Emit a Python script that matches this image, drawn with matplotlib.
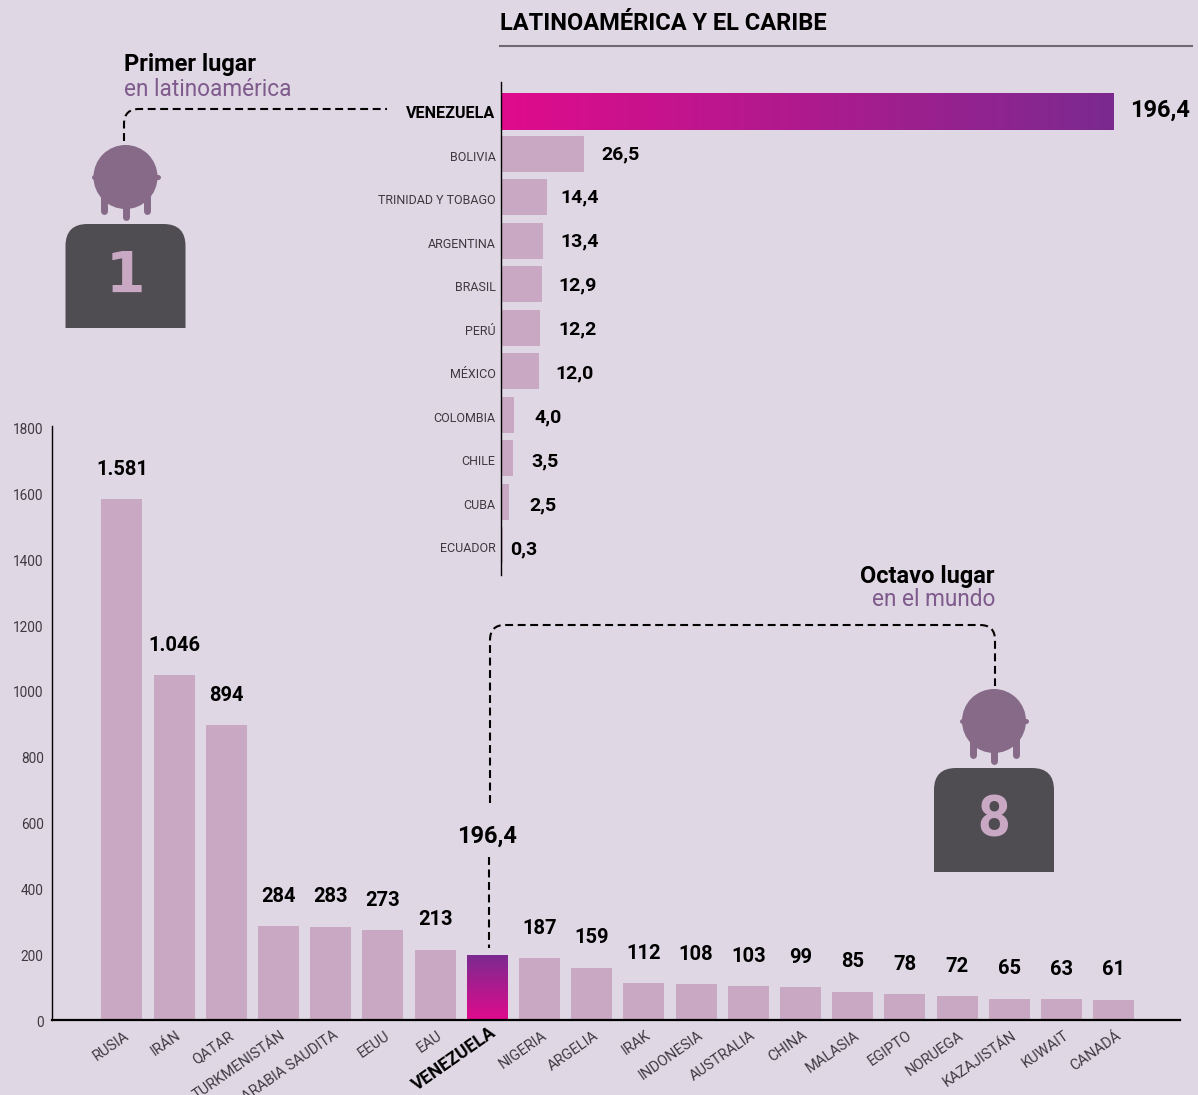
import numpy as np
import matplotlib
matplotlib.use("Agg")
import matplotlib.pyplot as plt
from matplotlib.colors import LinearSegmentedColormap
from matplotlib.patches import Circle, PathPatch
from matplotlib.path import Path
from matplotlib.transforms import ScaledTranslation

# Data
latam_names = ["VENEZUELA", "BOLIVIA", "TRINIDAD Y TOBAGO", "ARGENTINA", "BRASIL", "PERÚ",
               "MÉXICO", "COLOMBIA", "CHILE", "CUBA", "ECUADOR"]
latam_values = [196.4, 26.5, 14.4, 13.4, 12.9, 12.2, 12.0, 4.0, 3.5, 2.5, 0.3]
latam_labels = ["196,4", "26,5", "14,4", "13,4", "12,9", "12,2", "12,0", "4,0", "3,5", "2,5", "0,3"]

world_names = ["RUSIA", "IRÁN", "QATAR", "TURKMENISTÁN", "ARABIA SAUDITA", "EEUU", "EAU", "VENEZUELA",
               "NIGERIA", "ARGELIA", "IRAK", "INDONESIA", "AUSTRALIA", "CHINA", "MALASIA", "EGIPTO",
               "NORUEGA", "KAZAJISTÁN", "KUWAIT", "CANADÁ"]
world_values = [1581, 1046, 894, 284, 283, 273, 213, 196.4, 187, 159, 112, 108, 103, 99, 85, 78, 72, 65, 63, 61]
world_labels = ["1.581", "1.046", "894", "284", "283", "273", "213", "196,4", "187", "159", "112", "108",
                "103", "99", "85", "78", "72", "65", "63", "61"]
world_ticks = [0, 200, 400, 600, 800, 1000, 1200, 1400, 1600, 1800]

# Colours and fonts
BG = "#dfd7e4"
BAR = "#c9a8c3"
HEAD = "#866a88"
BODY = "#4f4c52"
PURPLE = "#7f5a8c"
TICK = "#3d3a40"
HEAVY = ["Roboto", "DejaVu Sans"]
gradient = LinearSegmentedColormap.from_list("vz", ["#e00b8c", "#7b2a90"])

W, H = 1198, 1095
PX = 0.72  # points per pixel at dpi 100

fig = plt.figure(figsize=(W / 100, H / 100), dpi=100, facecolor=BG)


def px_axes(left, top, right, bottom):
    return fig.add_axes([left / W, 1 - bottom / H, (right - left) / W, (bottom - top) / H], facecolor="none")


def shift(dx_px, dy_px):
    return ScaledTranslation(dx_px / 100, dy_px / 100, fig.dpi_scale_trans)


# Latin America chart
ax_top = px_axes(501, 82, 1190, 575)
top_xlim = (0, 689 / 3.12)
top_ylim = (10.68, -0.655)
ypos = np.arange(len(latam_values))
label_pads = [16, 18, 14, 18, 17, 19, 17, 21, 19, 21, 8]
ax_top.barh(ypos[1:], latam_values[1:], height=0.828, color=BAR, left=0.2)
ax_top.imshow(np.linspace(0, 1, 256).reshape(1, -1), cmap=gradient, aspect="auto",
              extent=(0, latam_values[0], 0.44, -0.39), zorder=2)
ax_top.set_xlim(*top_xlim)
ax_top.set_ylim(*top_ylim)
for s in ["top", "right", "bottom"]:
    ax_top.spines[s].set_visible(False)
ax_top.spines["left"].set_linewidth(1.0)
ax_top.set_xticks([])
ax_top.set_yticks(ypos, latam_names)
ax_top.tick_params(axis="y", length=0, pad=4)
for i, t in enumerate(ax_top.get_yticklabels()):
    if i == 0:
        t.set(family=HEAVY, fontweight="bold", fontsize=11.6, color="black")
        t.set_transform(t.get_transform() + shift(0, -1.5))
    else:
        t.set(family=HEAVY, fontsize=9, color=TICK)
        t.set_transform(t.get_transform() + shift(0, -2))
for i, (v, lab) in enumerate(zip(latam_values, latam_labels)):
    size = 17 if i == 0 else 14
    # the printed labels drift slightly from the bar rows
    drift = 0 if i == 0 else -(i - 1) * 0.42
    ax_top.annotate(lab, (v, i), xytext=(label_pads[i] * PX, drift * PX), textcoords="offset points",
                    va="center", ha="left", family=HEAVY, fontweight="bold", fontsize=size, color="black")

# World chart
ax_low = px_axes(52, 426, 1180, 1020)
low_x = np.arange(len(world_values))
low_xlim = (-1.34, 20.27)
low_ylim = (0, 594 / 0.3295)
bars = ax_low.bar(low_x, world_values, width=0.785, color=BAR)
vz = world_names.index("VENEZUELA")
bars[vz].set_visible(False)
ax_low.imshow(np.linspace(1, 0, 256).reshape(-1, 1), cmap=gradient, aspect="auto",
              extent=(vz - 0.3925, vz + 0.3925, 0, world_values[vz]), zorder=2)
ax_low.set_xlim(*low_xlim)
ax_low.set_ylim(*low_ylim)
for s in ["top", "right"]:
    ax_low.spines[s].set_visible(False)
ax_low.spines["left"].set_linewidth(1.0)
ax_low.spines["bottom"].set_linewidth(1.6)
ax_low.set_yticks(world_ticks)
ax_low.tick_params(axis="y", length=0, pad=6, labelsize=9.8, labelcolor=TICK)
for t in ax_low.get_yticklabels():
    t.set_family(HEAVY)
    t.set_transform(t.get_transform() + shift(0, -1.5))
ax_low.set_xticks(low_x, world_names)
ax_low.tick_params(axis="x", length=0, pad=6)
for i, t in enumerate(ax_low.get_xticklabels()):
    t.set(rotation=35, ha="right", va="top", rotation_mode="anchor")
    if i == vz:
        t.set(family=HEAVY, fontweight="bold", fontsize=12.8, color="black")
        t.set_transform(t.get_transform() + shift(2, 5))
    else:
        t.set(family=HEAVY, fontsize=10.5, color=TICK)
        t.set_transform(t.get_transform() + shift(1.5, 0))
for i, (v, lab) in enumerate(zip(world_values, world_labels)):
    dy = 119 if i == vz else 30
    size = 17 if i == vz else 14.5
    ax_low.annotate(lab, (i, v), xytext=(0, dy * PX), textcoords="offset points", ha="center", va="center",
                    family=HEAVY, fontweight="bold", fontsize=size, color="black", zorder=5)

# Overlay in pixel coordinates for titles, connectors and icons
ov = fig.add_axes([0, 0, 1, 1], facecolor="none")
ov.set_xlim(0, W)
ov.set_ylim(H, 0)
ov.axis("off")


def connector(verts, codes):
    ov.add_patch(PathPatch(Path(verts, codes), fill=False, edgecolor="black", lw=1.5, linestyle=(0, (3.8, 2.2))))


def person(cx, cy, digit, digit_family):
    ov.add_patch(Circle((cx, cy), 32, color=HEAD, lw=0))
    ov.plot([cx - 32, cx + 32], [cy, cy], color=HEAD, lw=3.6, solid_capstyle="round")
    for dx, end in [(-21.5, 37), (0, 43), (21.5, 37)]:
        ov.plot([cx + dx, cx + dx], [cy + 15, cy + end - 3.5], color=HEAD, lw=5, solid_capstyle="round")
    r = 22
    x0, x1, y0, y1 = cx - 60, cx + 60, cy + 47, cy + 151
    verts = [(x0, y1), (x0, y0 + r), (x0, y0), (x0 + r, y0), (x1 - r, y0), (x1, y0), (x1, y0 + r), (x1, y1), (x0, y1)]
    codes = [Path.MOVETO, Path.LINETO, Path.CURVE3, Path.CURVE3, Path.LINETO, Path.CURVE3, Path.CURVE3,
             Path.LINETO, Path.CLOSEPOLY]
    ov.add_patch(PathPatch(Path(verts, codes), facecolor=BODY, edgecolor="none"))
    ov.text(cx, cy + 100, digit, ha="center", va="center", color=BAR, family=digit_family, fontweight="bold", fontsize=41)


person(125.5, 177, "1", ["DejaVu Sans"])
person(994, 721, "8", HEAVY)

connector([(124, 141), (124, 124), (124, 109), (139, 109), (387, 109)],
          [Path.MOVETO, Path.LINETO, Path.CURVE3, Path.CURVE3, Path.LINETO])
connector([(490, 803), (490, 640), (490, 625), (505, 625), (980, 625), (995, 625), (995, 640), (995, 686)],
          [Path.MOVETO, Path.LINETO, Path.CURVE3, Path.CURVE3, Path.LINETO, Path.CURVE3, Path.CURVE3, Path.LINETO])
connector([(489, 857), (489, 948)], [Path.MOVETO, Path.LINETO])

ov.text(500, 23, "LATINOAMÉRICA Y EL CARIBE", family=HEAVY, fontweight="bold", fontsize=17, color="black",
        ha="left", va="center")
ov.plot([500, 1192], [46, 46], color="#6f6a72", lw=1.5)
ov.text(124, 65, "Primer lugar", family=HEAVY, fontweight="bold", fontsize=17, color="black", ha="left", va="center")
ov.text(124, 89, "en latinoamérica", family=HEAVY, fontsize=16.3, color=PURPLE, ha="left", va="center")
ov.text(995, 576, "Octavo lugar", family=HEAVY, fontweight="bold", fontsize=17, color="black", ha="right", va="center")
ov.text(995, 600, "en el mundo", family=HEAVY, fontsize=16.3, color=PURPLE, ha="right", va="center")

fig.savefig("out.png", dpi=100, facecolor=BG)
